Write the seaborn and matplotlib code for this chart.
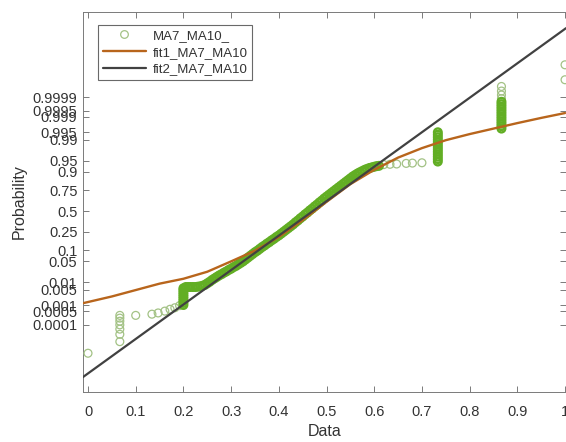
import matplotlib
matplotlib.use("Agg")
import matplotlib.pyplot as plt
import seaborn as sns
import pandas as pd
from statistics import NormalDist
from matplotlib.lines import Line2D

# ---------------- data (x = Data value, q = normal quantile of plotting position) -------------
# sparse / isolated samples
sparse_x = [0.0, 0.1, 0.134, 0.147, 0.161, 0.172, 0.182, 0.192,
            0.62, 0.633, 0.647, 0.667, 0.68, 0.70, 1.0, 1.0]
sparse_q = [-4.66, -3.42, -3.38, -3.34, -3.28, -3.22, -3.17, -3.10,
            1.52, 1.53, 1.54, 1.56, 1.57, 1.58, 4.30, 4.79]
# tied-value stacks
stack_a_x = 0.0667
stack_a_q = [-3.42, -3.51, -3.61, -3.73, -3.87, -4.04, -4.28]
stack_b_x = 0.2
stack_b_q = [-3.08, -3.01, -2.94, -2.87, -2.80, -2.73, -2.66, -2.59, -2.53]
stack_c_x = 0.7333
stack_c_q = [1.62, 1.70, 1.78, 1.86, 1.94, 2.02, 2.10, 2.18, 2.26, 2.34, 2.42, 2.50, 2.58]
stack_d_x = 0.8667
stack_d_q = [2.70, 2.78, 2.86, 2.94, 3.02, 3.10, 3.18, 3.26, 3.34, 3.42, 3.50, 3.58]
stack_d_top_q = [3.68, 3.80, 3.93, 4.08]
# dense central band
band_x = [0.205, 0.21, 0.215, 0.22, 0.225, 0.23, 0.235, 0.24, 0.245, 0.25, 0.255, 0.26,
          0.265, 0.27, 0.275, 0.28, 0.285, 0.29, 0.295, 0.30, 0.305, 0.31, 0.315, 0.32,
          0.325, 0.33, 0.335, 0.34, 0.345, 0.35, 0.355, 0.36, 0.365, 0.37, 0.375, 0.38,
          0.385, 0.39, 0.395, 0.40, 0.405, 0.41, 0.415, 0.42, 0.425, 0.43, 0.435, 0.44,
          0.445, 0.45, 0.455, 0.46, 0.465, 0.47, 0.475, 0.48, 0.485, 0.49, 0.495, 0.50,
          0.505, 0.51, 0.515, 0.52, 0.525, 0.53, 0.535, 0.54, 0.545, 0.55, 0.555, 0.56,
          0.565, 0.57, 0.575, 0.58, 0.585, 0.59, 0.595, 0.60, 0.605, 0.61]
band_q = [-2.49, -2.49, -2.49, -2.49, -2.49, -2.48, -2.47, -2.45, -2.42, -2.37, -2.32, -2.26,
          -2.21, -2.16, -2.11, -2.07, -2.02, -1.98, -1.93, -1.89, -1.84, -1.80, -1.75, -1.70,
          -1.65, -1.59, -1.53, -1.47, -1.41, -1.35, -1.30, -1.24, -1.18, -1.13, -1.07, -1.02,
          -0.96, -0.91, -0.85, -0.80, -0.74, -0.68, -0.62, -0.56, -0.50, -0.44, -0.37, -0.31,
          -0.24, -0.18, -0.11, -0.05, 0.02, 0.08, 0.15, 0.21, 0.28, 0.34, 0.41, 0.47,
          0.53, 0.59, 0.65, 0.71, 0.77, 0.83, 0.89, 0.95, 1.01, 1.07, 1.13, 1.18,
          1.23, 1.27, 1.31, 1.35, 1.38, 1.41, 1.43, 1.45, 1.47, 1.48]
# fit curves
fit1_x = [-0.0105, 0.05, 0.10, 0.15, 0.20, 0.25, 0.30, 0.35, 0.40, 0.45, 0.50, 0.55, 0.60,
          0.65, 0.70, 0.75, 0.80, 0.85, 0.90, 0.95, 1.00]
fit1_q = [-3.02, -2.80, -2.59, -2.38, -2.22, -1.99, -1.65, -1.30, -0.85, -0.30, 0.30, 0.88,
          1.35, 1.75, 2.06, 2.32, 2.52, 2.70, 2.88, 3.05, 3.21]
fit2_x = [-0.0105, 1.002]
fit2_q = [-5.44, 5.99]

prob_ticks = [0.0001, 0.0005, 0.001, 0.005, 0.01, 0.05, 0.1, 0.25, 0.5, 0.75, 0.9, 0.95,
              0.99, 0.995, 0.999, 0.9995, 0.9999]
prob_labels = ["0.0001", "0.0005", "0.001", "0.005", "0.01", "0.05", "0.1", "0.25", "0.5",
               "0.75", "0.9", "0.95", "0.99", "0.995", "0.999", "0.9995", "0.9999"]
x_ticks = [0, 0.1, 0.2, 0.3, 0.4, 0.5, 0.6, 0.7, 0.8, 0.9, 1.0]
x_labels = ["0", "0.1", "0.2", "0.3", "0.4", "0.5", "0.6", "0.7", "0.8", "0.9", "1"]

# ---------------- tables ----------------
sparse_df = pd.DataFrame({
    "x": sparse_x + [stack_a_x] * len(stack_a_q) + [stack_d_x] * len(stack_d_top_q),
    "q": sparse_q + stack_a_q + stack_d_top_q,
})
dense_df = pd.DataFrame({
    "x": [stack_b_x] * len(stack_b_q) + band_x + [stack_c_x] * len(stack_c_q)
         + [stack_d_x] * len(stack_d_q),
    "q": stack_b_q + band_q + stack_c_q + stack_d_q,
})
fit1_df = pd.DataFrame({"x": fit1_x, "q": fit1_q})
fit2_df = pd.DataFrame({"x": fit2_x, "q": fit2_q})

# ---------------- style ----------------
sns.set_theme(style="white")
plt.rcParams["font.family"] = ["Liberation Sans", "DejaVu Sans"]

GREEN = "#62AE24"
GREEN_PALE = "#A3C285"
ORANGE = "#B8651C"
GRAY = "#414141"
AX_COL = "#7a7a7a"
TXT = "#333333"

fig = plt.figure(figsize=(5.66, 4.42), dpi=100)
ax = fig.add_axes([83 / 566, 50 / 442, 483 / 566, 380 / 442])

sns.scatterplot(data=sparse_df, x="x", y="q", ax=ax, marker="o", s=32,
                facecolors="none", edgecolor=GREEN_PALE, linewidth=0.9, zorder=3)
sns.scatterplot(data=dense_df, x="x", y="q", ax=ax, marker="o", s=30,
                facecolors="none", edgecolor=GREEN, linewidth=1.7, zorder=3)
sns.lineplot(data=fit1_df, x="x", y="q", ax=ax, sort=False, estimator=None,
             color=ORANGE, linewidth=1.7, zorder=4)
sns.lineplot(data=fit2_df, x="x", y="q", ax=ax, sort=False, estimator=None,
             color=GRAY, linewidth=1.6, zorder=5)

ax.set_xlim(-0.0105, 1.002)
ax.set_ylim(-5.93, 6.52)
ax.set_xticks(x_ticks)
ax.set_xticklabels(x_labels)
nd = NormalDist()
ax.set_yticks([nd.inv_cdf(p) for p in prob_ticks])
ax.set_yticklabels(prob_labels)

ax.tick_params(direction="in", length=4, width=0.7, color=AX_COL, labelcolor=TXT,
               labelsize=10.5, top=True, right=True, left=True, bottom=True, pad=4)
ax.tick_params(axis="x", pad=9)
for sp in ax.spines.values():
    sp.set_visible(True)
    sp.set_color(AX_COL)
    sp.set_linewidth(0.7)

ax.set_xlabel("Data", fontsize=11.5, color=TXT, labelpad=4)
ax.set_ylabel("Probability", fontsize=11.5, color=TXT, labelpad=4)

handles = [
    Line2D([], [], ls="none", marker="o", ms=5.5, mfc="none", mec=GREEN_PALE, mew=0.9),
    Line2D([], [], color=ORANGE, lw=1.7),
    Line2D([], [], color=GRAY, lw=1.6),
]
labels = ["MA7_MA10_", "fit1_MA7_MA10", "fit2_MA7_MA10"]
leg = ax.legend(handles, labels, loc="upper left", bbox_to_anchor=(0.031, 0.966),
                borderaxespad=0, fontsize=9.5, frameon=True, fancybox=False,
                handlelength=3.3, handletextpad=0.5, borderpad=0.35, labelspacing=0.35)
leg.get_frame().set_edgecolor("#444444")
leg.get_frame().set_linewidth(0.8)
for t in leg.get_texts():
    t.set_color(TXT)

fig.savefig("out.png", dpi=100)
